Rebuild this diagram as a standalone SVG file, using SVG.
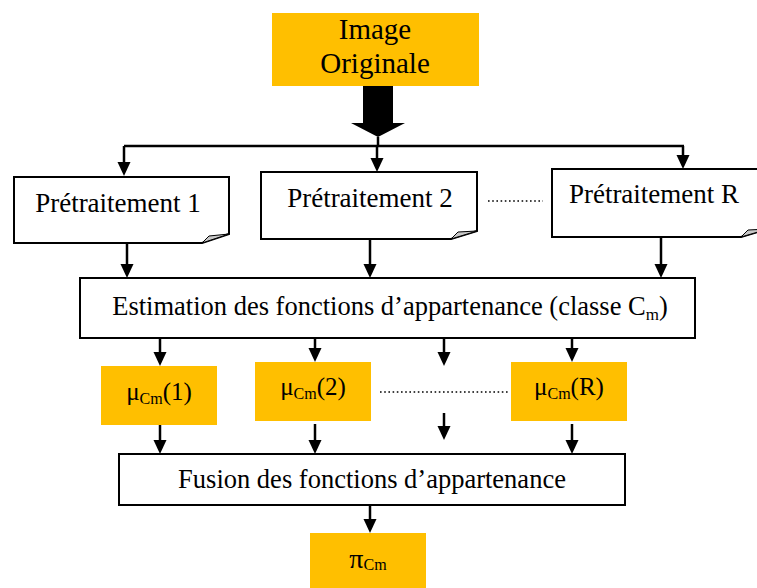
<svg xmlns="http://www.w3.org/2000/svg" width="757" height="588" viewBox="0 0 757 588">
<defs>
<style>
text{font-family:"Liberation Serif","Times New Roman",serif;fill:#000}
.box{fill:#fff;stroke:#000;stroke-width:2}
.org{fill:#FFBF00;stroke:none}
.fold{fill:#c8c8c8;stroke:#000;stroke-width:1}
.ln{stroke:#000;stroke-width:2.5;fill:none}
.dot{stroke:#000;stroke-width:1.6;stroke-dasharray:1.6 2.6;fill:none}
</style>
<marker id="ah" markerUnits="userSpaceOnUse" markerWidth="14" markerHeight="14" refX="8" refY="7" orient="auto">
<path d="M0,0.5 L14,7 L0,13.5 z" fill="#000"/>
</marker>
</defs>
<g id="n-image">
<rect class="org" x="272" y="13" width="207" height="73"/>
<text x="375" y="39" font-size="29" text-anchor="middle">Image</text>
<text x="375" y="73" font-size="29" text-anchor="middle">Originale</text>
</g>
<g id="n-pre1">
<path class="box" d="M14,177 H229 V234 L202,243 H14 Z"/>
<path class="fold" d="M202,243 L209,236 L229,234 Z"/>
<text x="118" y="212" font-size="27" text-anchor="middle">Prétraitement 1</text>
</g>
<g id="n-pre2">
<path class="box" d="M261,172 H477 V231 L451,239 H261 Z"/>
<path class="fold" d="M451,239 L458,232 L477,231 Z"/>
<text x="370" y="207" font-size="27" text-anchor="middle">Prétraitement 2</text>
</g>
<g id="n-preR">
<path class="box" d="M552,169 H768 V229 L741,237 H552 Z"/>
<path class="fold" d="M741,237 L748,230 L768,229 Z"/>
<text x="654" y="203" font-size="27" text-anchor="middle">Prétraitement R</text>
</g>
<g id="n-estim">
<rect class="box" x="80" y="278" width="615" height="60"/>
<text x="390" y="315" font-size="26.5" text-anchor="middle">Estimation des fonctions d’appartenance (classe C<tspan font-size="17" dy="5">m</tspan><tspan dy="-5">)</tspan></text>
</g>
<g id="n-mu1">
<rect class="org" x="101" y="366" width="116" height="59"/>
<text x="159" y="400" font-size="25" text-anchor="middle">μ<tspan font-size="16" dy="4">Cm</tspan><tspan dy="-4">(1)</tspan></text>
</g>
<g id="n-mu2">
<rect class="org" x="255" y="362" width="116" height="59"/>
<text x="313" y="395" font-size="25" text-anchor="middle">μ<tspan font-size="16" dy="4">Cm</tspan><tspan dy="-4">(2)</tspan></text>
</g>
<g id="n-muR">
<rect class="org" x="511" y="362" width="116" height="59"/>
<text x="569" y="395" font-size="25" text-anchor="middle">μ<tspan font-size="16" dy="4">Cm</tspan><tspan dy="-4">(R)</tspan></text>
</g>
<g id="n-fusion">
<rect class="box" x="119" y="454" width="506" height="51"/>
<text x="372" y="488" font-size="26.5" text-anchor="middle">Fusion des fonctions d’appartenance</text>
</g>
<g id="n-pi">
<rect class="org" x="310" y="533" width="116" height="56"/>
<text x="368" y="568" font-size="28" text-anchor="middle">π<tspan font-size="16" dy="2">Cm</tspan></text>
</g>
<g id="connectors">
<path d="M363,86 H393 V123 H405 L378,137 L351,123 H363 Z" fill="#000"/>
<path class="ln" d="M124,146 H684"/>
<path class="ln" d="M378,137 V146"/>
<path class="ln" d="M124,146 V170" marker-end="url(#ah)"/>
<path class="ln" d="M377,146 V166" marker-end="url(#ah)"/>
<path class="ln" d="M683,146 V163" marker-end="url(#ah)"/>
<path class="ln" d="M127,243 V272" marker-end="url(#ah)"/>
<path class="ln" d="M370,239 V272" marker-end="url(#ah)"/>
<path class="ln" d="M661,237 V272" marker-end="url(#ah)"/>
<path class="dot" d="M488,201 H543"/>
<path class="ln" d="M160,338 V360" marker-end="url(#ah)"/>
<path class="ln" d="M315,338 V356" marker-end="url(#ah)"/>
<path class="ln" d="M444,338 V360" marker-end="url(#ah)"/>
<path class="ln" d="M572,338 V356" marker-end="url(#ah)"/>
<path class="dot" d="M380,392 H509"/>
<path class="ln" d="M160,425 V448" marker-end="url(#ah)"/>
<path class="ln" d="M315,424 V448" marker-end="url(#ah)"/>
<path class="ln" d="M444,413 V434" marker-end="url(#ah)"/>
<path class="ln" d="M572,424 V448" marker-end="url(#ah)"/>
<path class="ln" d="M370,505 V527" marker-end="url(#ah)"/>
</g>
</svg>
